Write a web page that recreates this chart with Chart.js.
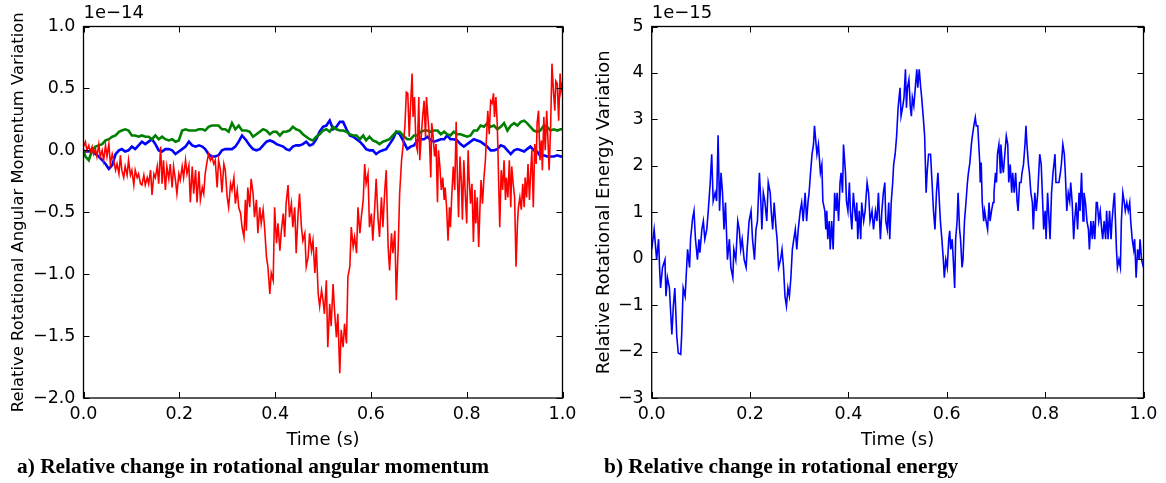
<!DOCTYPE html>
<html><head><meta charset="utf-8">
<script src="https://cdn.jsdelivr.net/npm/chart.js@4.4.1/dist/chart.umd.min.js"></script>
<style>
html,body{margin:0;padding:0;background:#fff;}
body{width:1166px;height:483px;position:relative;overflow:hidden;}
canvas{position:absolute;top:0;}
.cap{position:absolute;font-family:"Liberation Serif","Times New Roman",serif;font-weight:bold;font-size:21.4px;line-height:21px;white-space:nowrap;color:#000;}
</style></head><body>
<canvas id="c1" width="583" height="483" style="left:0;width:583px;height:483px"></canvas>
<canvas id="c2" width="583" height="483" style="left:583px;width:583px;height:483px"></canvas>
<div class="cap" style="left:17px;top:456px">a) Relative change in rotational angular momentum</div>
<div class="cap" style="left:604px;top:456px">b) Relative change in rotational energy</div>
<script>
// ---------- tick labels ----------
const timeTicks = [0.0, 0.2, 0.4, 0.6, 0.8, 1.0];
const momTicks = [-2.0, -1.5, -1.0, -0.5, 0.0, 0.5, 1.0];
const energyTicks = [-3, -2, -1, 0, 1, 2, 3, 4, 5];

// ---------- panel a: angular momentum (x 1e-14) ----------
const momT = [0.000,0.004,0.011,0.018,0.025,0.032,0.039,0.046,0.053,0.060,0.067,0.074,0.080,0.087,0.094,0.101,0.108,0.115,0.122,0.129,0.136,0.143,0.150,0.157,0.164,0.171,0.178,0.185,0.192,0.199,0.206,0.213,0.220,0.227,0.234,0.241,0.248,0.254,0.261,0.268,0.275,0.282,0.289,0.296,0.303,0.310,0.317,0.324,0.331,
0.340,0.347,0.354,0.361,0.368,0.375,0.382,0.389,0.396,0.403,0.410,0.417,0.423,0.430,0.437,0.444,0.451,0.458,0.465,0.472,0.479,0.486,0.493,0.500,0.507,0.514,0.521,0.528,0.535,0.542,0.549,0.556,0.563,0.570,0.577,0.584,0.590,0.597,0.604,0.611,0.618,0.625,0.632,0.639,0.646,0.653,0.660,0.667,
0.676,0.683,0.690,0.697,0.704,0.711,0.718,0.725,0.732,0.739,0.746,0.753,0.759,0.766,0.773,0.780,0.787,0.794,0.801,0.808,0.815,0.822,0.829,0.836,0.843,0.850,0.857,0.864,0.871,0.878,0.885,0.892,0.899,0.906,0.913,0.920,0.926,0.933,0.940,0.947,0.954,0.961,0.968,0.975,0.982,0.989,0.996,1.000];
const greenV = [0.00,-0.05,-0.08,0.00,0.03,0.04,0.05,0.08,0.09,0.11,0.12,0.15,0.16,0.17,0.16,0.12,0.12,0.11,0.12,0.11,0.11,0.09,0.12,0.09,0.11,0.09,0.08,0.09,0.07,0.08,0.16,0.17,0.16,0.16,0.16,0.17,0.17,0.16,0.19,0.20,0.20,0.20,0.17,0.17,0.15,0.22,0.17,0.20,0.16,
0.16,0.15,0.11,0.13,0.15,0.17,0.16,0.13,0.15,0.15,0.12,0.15,0.15,0.16,0.19,0.17,0.16,0.13,0.11,0.09,0.08,0.11,0.13,0.16,0.17,0.15,0.19,0.17,0.16,0.16,0.15,0.13,0.12,0.12,0.09,0.12,0.08,0.11,0.08,0.07,0.05,0.07,0.08,0.09,0.12,0.15,0.15,0.12,
0.09,0.09,0.12,0.12,0.15,0.16,0.16,0.15,0.16,0.16,0.13,0.15,0.13,0.12,0.15,0.13,0.13,0.12,0.11,0.12,0.16,0.16,0.20,0.19,0.22,0.19,0.20,0.17,0.19,0.22,0.16,0.20,0.22,0.20,0.23,0.24,0.22,0.19,0.16,0.15,0.16,0.20,0.19,0.16,0.17,0.16,0.17,0.17];
const blueV = [0.00,-0.01,-0.01,0.00,-0.03,-0.05,-0.08,-0.11,-0.15,-0.12,-0.03,0.00,0.01,-0.01,0.00,0.03,0.01,0.04,0.07,0.05,0.07,0.09,0.05,0.00,-0.01,0.01,0.01,0.00,-0.03,-0.01,0.01,0.03,0.07,0.04,0.03,0.04,0.03,0.01,-0.03,-0.05,-0.05,-0.04,0.00,0.01,0.01,0.01,0.03,0.07,0.12,
0.08,0.04,0.01,0.00,0.01,0.04,0.07,0.08,0.07,0.05,0.04,0.03,0.01,0.00,0.03,0.04,0.04,0.05,0.07,0.04,0.05,0.09,0.15,0.19,0.20,0.24,0.17,0.19,0.23,0.23,0.17,0.12,0.11,0.09,0.07,0.04,0.01,0.00,0.00,-0.03,-0.01,0.00,0.01,0.05,0.09,0.15,0.13,0.08,
0.01,0.03,0.04,0.08,0.09,0.09,0.11,0.08,0.07,0.08,0.09,0.09,0.12,0.09,0.09,0.08,0.05,0.03,0.05,0.07,0.09,0.08,0.07,0.05,0.03,0.00,0.00,0.01,0.04,0.03,0.00,-0.03,0.00,0.01,0.00,-0.01,0.01,0.03,0.00,-0.01,-0.05,-0.04,-0.05,-0.05,-0.05,-0.04,-0.05,-0.05];
const redT = [0.000,0.004,0.007,0.011,0.014,0.018,0.021,0.025,0.028,0.032,0.035,0.039,0.042,0.046,0.049,0.053,0.056,0.060,0.063,0.067,0.070,0.074,0.077,0.080,0.084,0.087,0.091,0.094,0.098,0.101,0.105,0.108,0.112,0.115,0.119,0.122,0.126,0.129,0.133,0.136,0.140,0.143,0.147,0.150,0.154,0.157,0.161,0.164,0.167,0.171,0.174,0.178,0.181,0.185,0.188,0.192,0.195,0.199,0.202,0.206,0.209,0.213,0.216,0.220,0.223,0.227,0.230,0.234,0.237,0.241,0.244,0.248,0.251,0.254,0.258,0.261,0.265,0.268,0.272,0.275,0.279,0.282,0.286,0.289,0.293,0.296,0.300,0.303,0.307,0.310,0.314,0.317,0.321,0.324,0.328,0.331,0.335,0.338,
0.340,0.343,0.347,0.350,0.354,0.357,0.361,0.364,0.368,0.371,0.375,0.378,0.382,0.385,0.389,0.392,0.396,0.399,0.403,0.406,0.410,0.413,0.417,0.420,0.423,0.427,0.430,0.434,0.437,0.441,0.444,0.448,0.451,0.455,0.458,0.462,0.465,0.469,0.472,0.476,0.479,0.483,0.486,0.490,0.493,0.497,0.500,0.503,0.507,0.510,0.514,0.517,0.521,0.524,0.528,0.531,0.535,0.538,0.542,0.545,0.549,0.552,0.556,0.559,0.563,0.566,0.570,0.573,0.577,0.580,0.584,0.587,0.590,0.594,0.597,0.601,0.604,0.608,0.611,0.615,0.618,0.622,0.625,0.629,0.632,0.636,0.639,0.643,0.646,0.650,0.653,0.657,0.660,0.664,0.667,0.671,0.674,
0.677,0.680,0.683,0.686,0.688,0.691,0.694,0.697,0.700,0.702,0.705,0.708,0.711,0.714,0.716,0.719,0.722,0.725,0.727,0.730,0.733,0.736,0.739,0.741,0.744,0.747,0.750,0.753,0.755,0.758,0.761,0.764,0.766,0.769,0.772,0.775,0.778,0.780,0.783,0.786,0.789,0.791,0.794,0.797,0.800,0.803,0.805,0.808,0.811,0.814,0.817,0.819,0.822,0.825,0.828,0.830,0.833,0.836,0.839,0.842,0.844,0.847,0.850,0.853,0.856,0.858,0.861,0.864,0.867,0.869,0.872,0.875,0.878,0.881,0.883,0.886,0.889,0.892,0.894,0.897,0.900,0.903,0.906,0.908,0.911,0.914,0.917,0.920,0.922,0.925,0.928,0.931,0.933,0.936,0.939,0.942,0.945,0.947,0.950,0.953,0.956,0.958,0.961,0.964,0.967,0.970,0.972,0.975,0.978,0.981,0.984,0.986,0.989,0.992,0.995,0.997,1.000];
const redV = [0.03,0.07,0.00,0.04,-0.01,0.03,-0.03,0.01,-0.05,0.05,-0.05,0.00,-0.08,0.04,-0.05,0.05,-0.11,-0.03,-0.08,-0.16,-0.11,-0.19,-0.04,-0.16,-0.22,-0.13,-0.20,-0.08,-0.20,-0.16,-0.28,-0.16,-0.22,-0.19,-0.27,-0.28,-0.20,-0.28,-0.22,-0.27,-0.16,-0.36,-0.19,-0.22,-0.13,-0.27,0.03,-0.27,-0.08,-0.32,-0.13,-0.23,-0.11,-0.30,-0.13,-0.24,-0.35,-0.19,-0.24,-0.13,-0.22,-0.08,-0.19,-0.12,-0.42,-0.13,-0.35,-0.16,-0.42,-0.17,-0.40,-0.30,-0.35,-0.19,-0.09,-0.03,-0.08,-0.05,-0.11,-0.08,-0.30,-0.08,-0.16,-0.34,-0.11,-0.16,-0.38,-0.46,-0.27,-0.32,-0.22,-0.43,-0.32,-0.46,-0.51,-0.62,-0.70,-0.40,
-0.65,-0.30,-0.46,-0.23,-0.35,-0.54,-0.40,-0.67,-0.46,-0.59,-0.48,-0.62,-0.86,-0.94,-1.16,-0.99,-1.05,-0.46,-0.75,-0.59,-0.81,-0.65,-0.51,-0.70,-0.43,-0.28,-0.54,-0.43,-0.62,-0.46,-0.83,-0.51,-0.35,-0.62,-0.73,-0.67,-0.94,-0.86,-0.67,-0.81,-0.73,-0.99,-0.78,-1.16,-1.26,-1.13,-1.21,-1.32,-1.05,-1.59,-1.24,-1.42,-1.08,-1.29,-1.51,-1.32,-1.80,-1.45,-1.59,-1.40,-1.56,-1.02,-0.94,-0.62,-0.78,-0.70,-0.83,-0.46,-0.67,-0.54,-0.40,-0.11,-0.27,-0.19,-0.62,-0.51,-0.73,-0.46,-0.23,-0.56,-0.70,-0.38,-0.62,-0.32,-0.16,-0.78,-0.97,-0.67,-0.83,-0.65,-1.21,-0.78,-0.35,-0.08,0.03,0.19,0.47,
0.46,0.11,0.38,0.62,0.27,0.43,0.05,0.00,0.43,-0.08,0.11,0.27,0.40,0.11,0.43,0.27,0.11,-0.22,0.22,0.11,-0.05,0.05,-0.42,0.00,-0.13,-0.32,-0.22,-0.40,-0.30,-0.46,-0.73,-0.46,-0.62,-0.35,-0.13,-0.32,0.23,-0.13,-0.54,-0.05,-0.27,-0.56,-0.08,-0.35,-0.59,0.00,-0.22,-0.43,-0.27,-0.74,-0.32,-0.59,-0.38,-0.78,-0.43,-0.24,-0.43,-0.22,-0.08,0.16,0.32,0.13,0.40,0.38,0.46,0.27,0.43,0.19,-0.30,-0.62,-0.16,-0.32,-0.08,-0.40,-0.22,-0.38,-0.08,-0.46,-0.13,-0.27,-0.38,-0.94,-0.59,-0.46,-0.38,-0.48,-0.27,-0.46,-0.22,-0.38,-0.11,-0.40,-0.22,0.00,-0.46,0.05,-0.11,0.22,0.32,-0.08,0.08,-0.16,0.27,0.00,0.32,0.05,-0.16,0.16,0.70,0.48,0.32,0.56,0.54,0.24,0.62,0.48,0.55];

// ---------- panel b: rotational energy (x 1e-15) ----------
const energyT = [0.000,0.005,0.010,0.014,0.016,0.018,0.022,0.027,0.029,0.032,0.036,0.039,0.041,0.044,0.047,0.051,0.054,0.059,0.061,0.064,0.068,0.071,0.073,0.077,0.079,0.083,0.086,0.089,0.093,0.096,0.098,0.102,0.105,0.108,0.112,0.115,0.119,0.122,0.125,0.129,0.132,0.135,0.138,0.141,0.144,0.147,0.150,0.154,0.158,0.161,0.165,0.167,0.171,0.175,0.178,0.181,0.184,0.188,0.192,0.194,0.198,0.202,0.205,0.209,0.212,0.215,0.219,0.222,0.224,0.227,0.230,0.234,0.237,0.241,0.243,0.246,0.249,0.253,0.255,0.258,0.262,0.265,0.268,0.271,0.274,0.277,0.280,0.283,0.286,0.289,0.292,0.295,0.298,0.302,0.305,0.308,0.312,0.315,0.318,0.320,0.323,0.326,0.329,0.331,
0.336,0.339,0.343,0.346,0.348,0.352,0.354,0.356,0.358,0.361,0.363,0.366,0.369,0.372,0.375,0.377,0.380,0.383,0.385,0.388,0.390,0.394,0.396,0.399,0.402,0.404,0.407,0.410,0.413,0.415,0.417,0.419,0.422,0.425,0.427,0.431,0.434,0.438,0.441,0.444,0.448,0.451,0.455,0.458,0.461,0.465,0.468,0.471,0.474,0.476,0.479,0.482,0.484,0.487,0.490,0.492,0.495,0.498,0.501,0.503,0.505,0.507,0.510,0.513,0.516,0.518,0.520,0.523,0.526,0.528,0.530,0.533,0.536,0.539,0.541,0.544,0.547,0.549,0.552,0.555,0.558,0.560,0.563,0.567,0.570,0.573,0.576,0.579,0.582,0.585,0.587,0.590,0.593,0.595,0.598,0.601,0.604,0.606,0.608,0.611,0.614,0.616,0.618,0.621,0.623,0.626,0.628,0.631,0.633,0.636,0.639,0.642,0.644,0.647,0.650,0.652,0.655,0.658,0.660,
0.663,0.667,0.668,0.670,0.672,0.675,0.677,0.680,0.683,0.686,0.688,0.691,0.694,0.696,0.699,0.701,0.703,0.706,0.709,0.710,0.713,0.715,0.718,0.721,0.724,0.726,0.729,0.732,0.734,0.737,0.740,0.743,0.745,0.748,0.751,0.753,0.756,0.759,0.761,0.763,0.766,0.768,0.771,0.774,0.776,0.779,0.782,0.785,0.787,0.789,0.792,0.795,0.797,0.800,0.802,0.805,0.808,0.810,0.813,0.816,0.818,0.820,0.822,0.825,0.828,0.831,0.833,0.836,0.839,0.841,0.844,0.847,0.850,0.852,0.855,0.858,0.860,0.863,0.866,0.869,0.871,0.874,0.877,0.879,0.882,0.885,0.888,0.890,0.893,0.896,0.898,0.901,0.904,0.906,0.909,0.912,0.915,0.917,0.920,0.923,0.925,0.928,0.931,0.934,0.936,0.939,0.941,0.943,0.945,0.947,0.950,0.953,0.955,0.958,0.961,0.963,0.966,0.969,0.972,0.974,0.977,0.980,0.982,0.985,0.988,0.991,0.993,0.996,1.000];
const energyV = [0.20,0.63,-0.02,0.42,-0.19,-0.63,-0.19,-0.02,-0.81,-0.41,-0.63,-1.24,-1.63,-1.02,-0.63,-1.67,-2.03,-2.06,-1.63,-0.63,-0.81,-0.19,0.20,-0.19,0.42,0.85,1.03,0.42,-0.02,0.42,0.13,0.63,0.81,0.42,0.63,1.03,1.64,2.25,1.24,1.42,1.24,2.66,1.03,1.85,1.42,0.63,1.21,-0.02,0.42,-0.19,-0.41,0.20,-0.02,0.81,0.63,0.20,0.42,-0.02,-0.19,0.20,0.81,1.03,0.42,-0.02,0.63,0.81,1.85,1.21,0.63,1.42,1.24,0.81,1.64,1.42,1.03,0.63,1.21,0.63,0.42,-0.19,-0.02,0.20,-0.19,-0.81,-1.02,-0.63,-0.81,-0.41,0.20,0.42,0.63,0.20,0.63,1.03,1.21,0.81,1.42,0.81,1.24,1.42,1.85,2.25,2.46,2.86,
2.25,2.46,1.85,2.03,1.24,1.03,0.63,1.03,0.42,0.81,0.20,0.81,0.20,1.42,1.03,1.42,0.81,1.64,1.85,1.42,2.46,1.85,1.24,1.03,1.64,1.03,0.63,1.42,1.03,0.81,1.21,0.42,1.03,0.42,1.21,0.81,1.03,1.64,1.42,0.81,1.03,0.63,1.03,0.81,1.42,0.42,1.03,1.42,1.64,0.81,0.63,1.21,0.42,1.21,1.64,2.03,2.25,2.64,3.25,3.47,3.68,3.07,3.25,3.47,4.08,3.25,3.68,3.86,3.25,3.07,3.47,3.29,3.68,4.08,3.68,4.08,3.68,3.47,3.07,2.64,1.42,1.85,2.25,2.25,1.64,1.03,0.63,1.42,1.85,1.21,0.81,0.42,-0.02,-0.41,-0.02,-0.19,0.42,0.60,0.20,0.42,-0.19,-0.63,0.42,0.81,1.42,0.63,0.42,-0.19,-0.02,0.81,1.21,1.64,1.85,2.07,2.46,2.64,2.86,3.04,2.86,
2.86,2.07,1.64,2.07,1.24,0.81,1.03,0.81,0.63,1.21,0.81,1.03,1.21,1.42,1.85,1.64,2.25,2.46,1.85,2.46,2.03,1.85,2.25,2.64,2.46,1.64,2.03,1.42,1.85,1.42,1.85,1.24,1.03,1.64,1.64,1.85,2.03,2.46,2.86,2.46,2.03,1.85,1.42,1.21,0.63,1.42,1.03,1.42,1.85,2.25,2.03,1.21,0.63,1.03,0.42,1.42,0.81,0.42,1.42,1.85,1.85,2.25,1.64,1.64,1.64,1.85,2.03,2.46,2.25,1.85,1.03,1.42,1.24,1.64,1.21,0.42,0.81,1.21,0.63,1.42,1.03,1.85,0.81,1.42,1.21,0.81,0.63,0.20,0.81,0.42,0.81,0.42,1.21,1.21,0.81,1.03,0.63,0.42,0.81,0.42,1.03,0.42,1.03,0.42,0.81,1.21,1.42,0.81,0.20,-0.19,-0.02,-0.19,0.81,1.42,1.21,1.03,1.21,1.03,1.21,0.81,0.42,0.20,0.42,-0.41,0.20,-0.02,0.42,-0.02,-0.19];

// ---------- helpers ----------
function pts(ts, vs) { const n = Math.min(ts.length, vs.length); const o = []; for (let i = 0; i < n; i++) o.push({x: ts[i], y: vs[i]}); return o; }
const fmtMinus = s => s.replace('-', '\u2212');

Chart.defaults.font.family = '"DejaVu Sans", sans-serif';
Chart.defaults.font.size = 17.5;
Chart.defaults.color = '#000';

const framePlugin = {
  id: 'frame',
  afterDraw(chart, args, opts) {
    const {ctx, chartArea: a} = chart;
    const x = chart.scales.x, y = chart.scales.y;
    const L = 6;
    ctx.save();
    ctx.strokeStyle = '#000';
    ctx.lineWidth = 1;
    ctx.beginPath();
    x.ticks.forEach(t => {
      const px = Math.round(x.getPixelForValue(t.value)) + 0.5;
      ctx.moveTo(px, a.bottom); ctx.lineTo(px, a.bottom - L);
      ctx.moveTo(px, a.top); ctx.lineTo(px, a.top + L);
    });
    y.ticks.forEach(t => {
      const py = Math.round(y.getPixelForValue(t.value)) + 0.5;
      ctx.moveTo(a.left, py); ctx.lineTo(a.left + L, py);
      ctx.moveTo(a.right, py); ctx.lineTo(a.right - L, py);
    });
    ctx.stroke();
    ctx.lineWidth = 1.3;
    ctx.strokeRect(a.left, a.top, a.right - a.left, a.bottom - a.top);
    ctx.font = '18px "DejaVu Sans"';
    ctx.fillStyle = '#000';
    ctx.textAlign = 'left';
    ctx.textBaseline = 'alphabetic';
    ctx.fillText(opts.exponent, a.left, a.top - 8.5);
    ctx.restore();
  }
};

function makeChart(id, datasets, yOpts, yTitle, exponent, pad) {
  return new Chart(document.getElementById(id), {
    type: 'line',
    data: { datasets },
    options: {
      responsive: false, animation: false, devicePixelRatio: 1,
      layout: { padding: { left: 0, top: 26.5, right: pad.right, bottom: 0 } },
      plugins: { legend: { display: false }, tooltip: { enabled: false }, frame: { exponent } },
      elements: { point: { radius: 0 }, line: { tension: 0 } },
      scales: {
        x: {
          type: 'linear', min: 0, max: 1,
          afterBuildTicks: s => { s.ticks = timeTicks.map(v => ({value: v})); },
          ticks: { padding: 6, callback: v => v.toFixed(1), maxRotation: 0 },
          grid: { display: false, drawTicks: false }, border: { display: false },
          title: { display: true, text: 'Time (s)', font: { size: 18 }, padding: { top: 0, bottom: 32 } },
          afterFit: s => { s.height = 85; }
        },
        y: {
          type: 'linear', min: yOpts.min, max: yOpts.max,
          afterBuildTicks: s => { s.ticks = yOpts.ticks.map(v => ({value: v})); },
          ticks: { padding: 8, callback: yOpts.fmt },
          grid: { display: false, drawTicks: false }, border: { display: false },
          title: { display: true, text: yTitle, font: { size: pad.titleSize }, padding: { top: pad.title, bottom: 0 } },
          afterFit: s => { s.width = pad.left; }
        }
      }
    },
    plugins: [framePlugin]
  });
}

makeChart('c1', [
  { data: pts(redT, redV), borderColor: '#ff0000', borderWidth: 1.6 },
  { data: pts(momT, greenV), borderColor: '#008000', borderWidth: 2.6 },
  { data: pts(momT, blueV), borderColor: '#0000ff', borderWidth: 2.6 }
], { min: -2, max: 1, ticks: momTicks, fmt: v => fmtMinus(v.toFixed(1)) },
 'Relative Rotational Angular Momentum Variation', '1e\u221214', { left: 83.5, right: 20.5, title: 9, titleSize: 16.4 });

makeChart('c2', [
  { data: pts(energyT, energyV), borderColor: '#0000ff', borderWidth: 1.6 }
], { min: -3, max: 5, ticks: energyTicks, fmt: v => fmtMinus(String(Math.round(v))) },
 'Relative Rotational Energy Variation', '1e\u221215', { left: 68.7, right: 22.5, title: 11, titleSize: 18 });
</script>
</body></html>
